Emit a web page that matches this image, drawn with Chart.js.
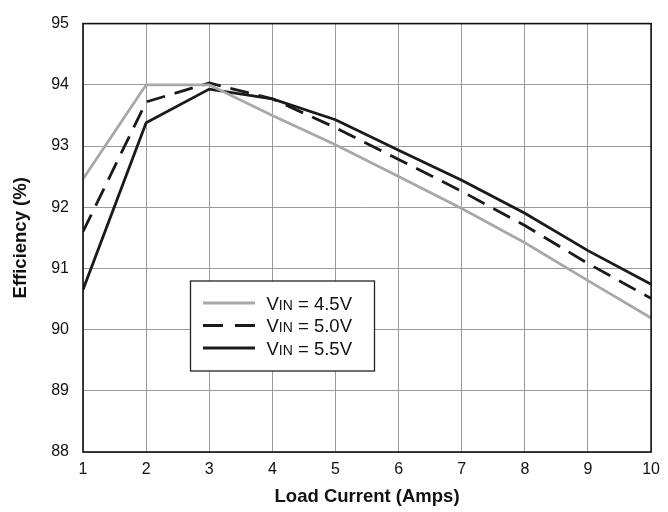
<!DOCTYPE html>
<html><head><meta charset="utf-8">
<script src="https://cdn.jsdelivr.net/npm/chart.js@4.4.0/dist/chart.umd.min.js"></script>
<style>html,body{margin:0;padding:0;background:#fff}#wrap{width:668px;height:512px}</style>
</head><body><div id="wrap"><canvas id="c" width="668" height="512"></canvas></div>
<script>
const loadCurrent = [1,2,3,4,5,6,7,8,9,10];
const eff45 = [92.46,94.0,94.0,93.5,93.02,92.5,91.98,91.42,90.8,90.19];
const eff50 = [91.6,93.72,94.03,93.77,93.3,92.78,92.26,91.7,91.08,90.51];
const eff55 = [90.65,93.38,93.93,93.77,93.43,92.93,92.44,91.9,91.29,90.74];
const seriesNames = ['4.5V','5.0V','5.5V'];
const yTicks = [88,89,90,91,92,93,94,95];

const FONT = "'Liberation Sans', Arial, sans-serif";
function hasFont(name){
  const c = document.createElement('canvas').getContext('2d');
  c.font = '40px monospace'; const a = c.measureText('abcmwi95').width;
  c.font = "40px '" + name + "', monospace"; return c.measureText('abcmwi95').width !== a;
}
const narrow = hasFont('Liberation Sans Narrow');
const TICKFONT = narrow ? {family:"'Liberation Sans Narrow', sans-serif", size:18} : {family:FONT, size:16};

const legendPlugin = {
  id:'boxLegend',
  afterDraw(chart){
    const ctx = chart.ctx, ca = chart.chartArea;
    ctx.save();
    ctx.strokeStyle = '#111'; ctx.lineWidth = 1.6;
    ctx.strokeRect(ca.left, ca.top, ca.right-ca.left, ca.bottom-ca.top);
    const bx = 190.5, by = 281, bw = 184, bh = 90;
    ctx.fillStyle = '#fff'; ctx.fillRect(bx,by,bw,bh);
    ctx.strokeStyle = '#222'; ctx.lineWidth = 1.3; ctx.strokeRect(bx,by,bw,bh);
    chart.data.datasets.forEach((ds,i)=>{
      const y = by + 22 + i*22.5;
      ctx.strokeStyle = ds.borderColor; ctx.lineWidth = ds.borderWidth;
      ctx.setLineDash(i===1 ? [20,12] : []);
      ctx.beginPath(); ctx.moveTo(bx+12.5,y); ctx.lineTo(bx+64.5,y); ctx.stroke();
      ctx.setLineDash([]);
      ctx.fillStyle = '#111'; ctx.textBaseline='alphabetic'; ctx.textAlign='left';
      const base = y + 6.5;
      let tx = bx+76;
      ctx.font = '18.5px ' + FONT; ctx.fillText('V', tx, base); tx += ctx.measureText('V').width;
      ctx.font = '14px ' + FONT; ctx.fillText('IN', tx, base); tx += ctx.measureText('IN').width;
      ctx.font = '18.5px ' + FONT; ctx.fillText(' = ' + seriesNames[i], tx, base);
    });
    ctx.restore();
  }
};

new Chart(document.getElementById('c'), {
  type:'line',
  data:{
    datasets:[
      {label:'VIN = 4.5V', data:loadCurrent.map((x,i)=>({x, y:eff45[i]})), borderColor:'#a8a8a8', borderWidth:2.8, pointRadius:0, tension:0},
      {label:'VIN = 5.0V', data:loadCurrent.map((x,i)=>({x, y:eff50[i]})), borderColor:'#1a1a1a', borderWidth:2.8, borderDash:[19,10], pointRadius:0, tension:0},
      {label:'VIN = 5.5V', data:loadCurrent.map((x,i)=>({x, y:eff55[i]})), borderColor:'#1a1a1a', borderWidth:2.8, pointRadius:0, tension:0}
    ]
  },
  options:{
    responsive:false, animation:false,
    layout:{padding:{top:16,right:12,left:0,bottom:0}},
    plugins:{legend:{display:false}, tooltip:{enabled:false}},
    scales:{
      x:{type:'linear', min:1, max:10,
        afterBuildTicks(s){ s.ticks = loadCurrent.map(v=>({value:v})); },
        afterFit(s){ s.height = 60; },
        grid:{color:'#9a9a9a', lineWidth:1, drawTicks:false},
        border:{display:false},
        ticks:{color:'#111', font:TICKFONT, padding:8},
        title:{display:true, text:'Load Current (Amps)', color:'#111', font:{family:FONT, size:18.5, weight:'bold'}, padding:{top:4}}
      },
      y:{type:'linear', min:88, max:95,
        afterBuildTicks(s){ s.ticks = yTicks.map(v=>({value:v})); },
        afterFit(s){ s.width = 83; },
        grid:{color:'#9a9a9a', lineWidth:1, drawTicks:false},
        border:{display:false},
        ticks:{color:'#111', font:TICKFONT, padding:14},
        title:{display:true, text:'Efficiency (%)', color:'#111', font:{family:FONT, size:18.5, weight:'bold'}, padding:{top:10, bottom:0}}
      }
    }
  },
  plugins:[legendPlugin]
});
</script></body></html>
